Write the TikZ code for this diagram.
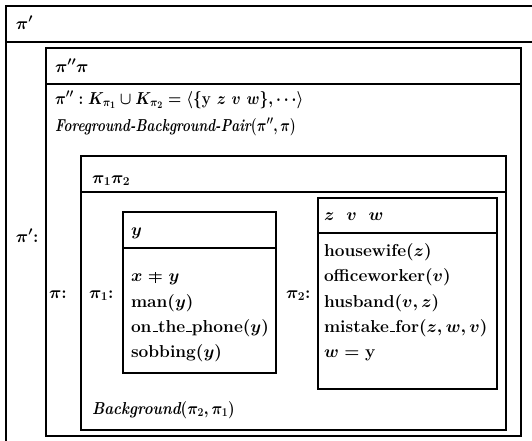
\documentclass[tikz,border=0pt]{standalone}
\usepackage{graphicx}
\newcommand{\vneq}{\mathrel{\hbox{\ooalign{$=$\cr\hidewidth\rule[-0.12em]{0.09em}{0.66em}\hidewidth\cr}}}}
\newcommand{\us}{\leavevmode\kern.06em\vbox{\hrule width.3em height .08em}\kern.02em}
\tikzset{
  box/.style={draw=black, line width=1.3pt},
  hline/.style={draw=black, line width=1.3pt},
  txt/.style={anchor=base west, inner sep=0pt, outer sep=0pt, font=\fontsize{17.28}{26}\selectfont\bfseries\boldmath},
  itxt/.style={txt, font=\fontsize{17.28}{26}\selectfont\bfseries\itshape\boldmath}
}
\begin{document}
\begin{tikzpicture}[x=1pt,y=-1pt]
\useasboundingbox (0,0) rectangle (532,440);
\begin{scope}
\clip (0,0) rectangle (532,440);
% outer box (cropped at right and bottom)
\draw[box] (6,460) -- (6,6) -- (560,6);
\draw[hline] (6,42) -- (560,42);
% pi'' pi box
\draw[box] (46,48) rectangle (521,436);
\draw[hline] (46,84) -- (521,84);
% pi1 pi2 box
\draw[box] (81,156) rectangle (506,430);
\draw[hline] (81,192) -- (506,192);
% y box
\draw[box] (123,212) rectangle (276,373);
\draw[hline] (123,248) -- (276,248);
% z v w box
\draw[box] (318,198) rectangle (497,389);
\draw[hline] (318,233) -- (497,233);
\end{scope}
% texts
\node[txt] (hpip) at (16,29) {$\pi'$};
\node[txt] (lpip) at (16,242) {$\pi'$:};
\node[txt] (hpipi) at (55,72) {$\pi''\pi$};
\node[txt] (cond1) at (55,104) {\scalebox{0.88}[1]{$\pi'' : K_{\pi_1} \cup K_{\pi_2} = \langle\{\mathbf{y}\ z\ v\ w\}, \cdots\rangle$}};
\node[itxt] (cond2) at (55,131) {\scalebox{0.78}[1]{Foreground-Background-Pair$(\pi'',\pi)$}};
\node[txt] (hpp) at (92,183) {$\pi_1\pi_2$};
\node[txt] (lpi) at (49,298) {$\pi$:};
\node[txt] (lpi1) at (89,298) {$\pi_1$:};
\node[txt] (hy) at (131,235) {$y$};
\node[txt] (c1) at (131,281) {$x \vneq y$};
\node[txt] (c2) at (131,307) {man$(y)$};
\node[txt] (c3) at (131,332) {on\us the\us phone$(y)$};
\node[txt] (c4) at (131,357) {sobbing$(y)$};
\node[txt] (lpi2) at (286,298) {$\pi_2$:};
\node[txt] (hzvw) at (324,220) {$z\;\ v\;\ w$};
\node[txt] (d1) at (324,256) {housewife$(z)$};
\node[txt] (d2) at (324,281) {officeworker$(v)$};
\node[txt] (d3) at (324,307) {husband$(v,z)$};
\node[txt] (d4) at (324,332) {mistake\us for$(z,w,v)$};
\node[txt] (d5) at (324,357) {$w = \mathbf{y}$};
\node[itxt] (bg) at (92,414) {\scalebox{0.87}[1]{Background$(\pi_2,\pi_1)$}};
\end{tikzpicture}
\end{document}
